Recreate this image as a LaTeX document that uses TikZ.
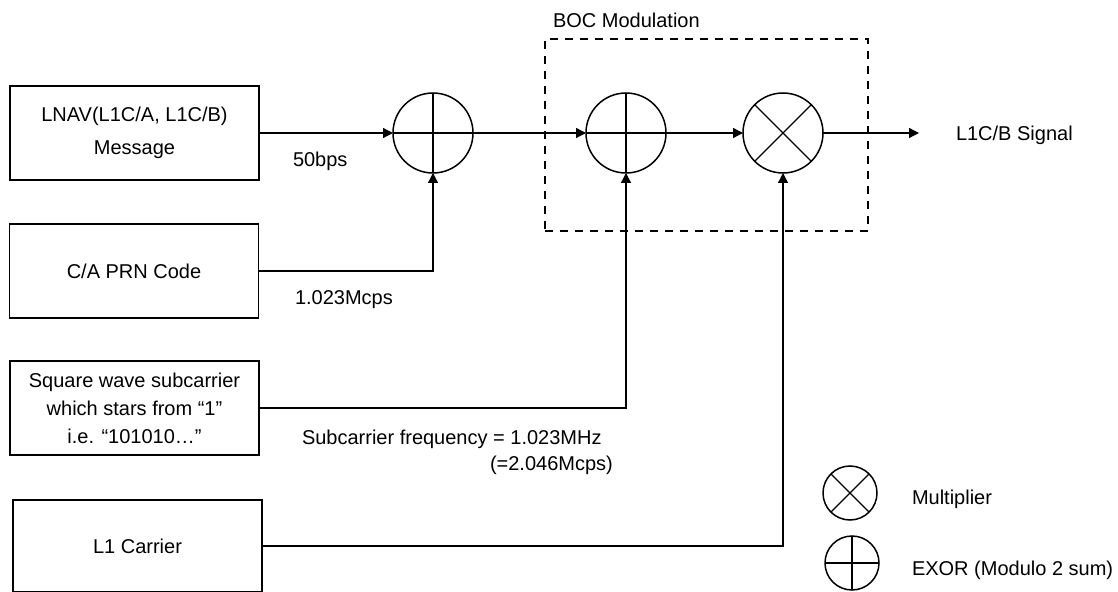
\documentclass[tikz,border=0pt]{standalone}
\usepackage{fontspec}
\setmainfont{Liberation Sans}
\usetikzlibrary{arrows.meta}
\begin{document}
\begin{tikzpicture}[x=1bp,y=-1bp, line width=1.3bp,
  every node/.style={font=\fontsize{20bp}{28bp}\selectfont, inner sep=0pt, outer sep=0pt},
  blockbox/.style={draw, line width=1.5bp, align=center, minimum width=249bp, minimum height=94bp},
  opcirc/.style={draw, circle, minimum size=80bp, line width=1.5bp},
  legcirc/.style={draw, circle, minimum size=54bp, line width=1.5bp},
  arr/.style={-{Triangle[length=10bp,width=10bp]}},
  lbl/.style={anchor=west, text height=14bp, text depth=0pt},
  bocbox/.style={draw, line width=1.3bp, dash pattern=on 8bp off 7bp, minimum width=323bp, minimum height=192bp}
]
\useasboundingbox (0,0) rectangle (1118,592);

% dashed BOC group
\node[bocbox] (boc) at (706.5,135) {};
\node[lbl] (boclbl) at (553,21) {BOC Modulation};

% blocks
\node[blockbox] (b1) at (134.5,133) {LNAV(L1C/A, L1C/B)\\[5bp]Message};
\node[blockbox] (b2) at (134,271) {C/A PRN Code};
\node[blockbox] (b3) at (134.5,408) {Square wave subcarrier\\which stars from “1”\\i.e. “101010…”};
\node[blockbox, minimum height=92bp] (b4) at (137.5,546) {L1 Carrier};

% operators
\node[opcirc] (c1) at (433,133) {};
\node[opcirc] (c2) at (626,133) {};
\node[opcirc] (c3) at (783,133) {};
\draw (c1.north) -- (c1.south) (c1.west) -- (c1.east);
\draw (c2.north) -- (c2.south) (c2.west) -- (c2.east);
\draw (c3.45) -- (c3.225) (c3.135) -- (c3.-45);

\coordinate (out) at (919,133);

% connectors
\draw[arr] (b1.east) -- (c1.west);
\draw[arr] (c1.east) -- (c2.west);
\draw[arr] (c2.east) -- (c3.west);
\draw[arr] (c3.east) -- (out);
\draw[arr] (b2.east) -| (c1.south);
\draw[arr] (b3.east) -| (c2.south);
\draw[arr] (b4.east) -| (c3.south);

% labels
\node[lbl] (l50) at (293,160) {50bps};
\node[lbl] (lmc) at (295,298) {1.023Mcps};
\node[lbl] (lsf) at (302,437) {Subcarrier frequency = 1.023MHz};
\node[lbl] (lsf2) at (490,463) {(=2.046Mcps)};
\node[lbl] (lsig) at (956,134) {L1C/B Signal};

% legend
\node[legcirc] (lm) at (850,493) {};
\draw (lm.45) -- (lm.225) (lm.135) -- (lm.-45);
\node[legcirc] (lx) at (852,563) {};
\draw (lx.north) -- (lx.south) (lx.west) -- (lx.east);
\node[lbl] (lmt) at (912,497) {Multiplier};
\node[lbl] (lxt) at (912,568) {EXOR (Modulo 2 sum)};
\end{tikzpicture}
\end{document}
